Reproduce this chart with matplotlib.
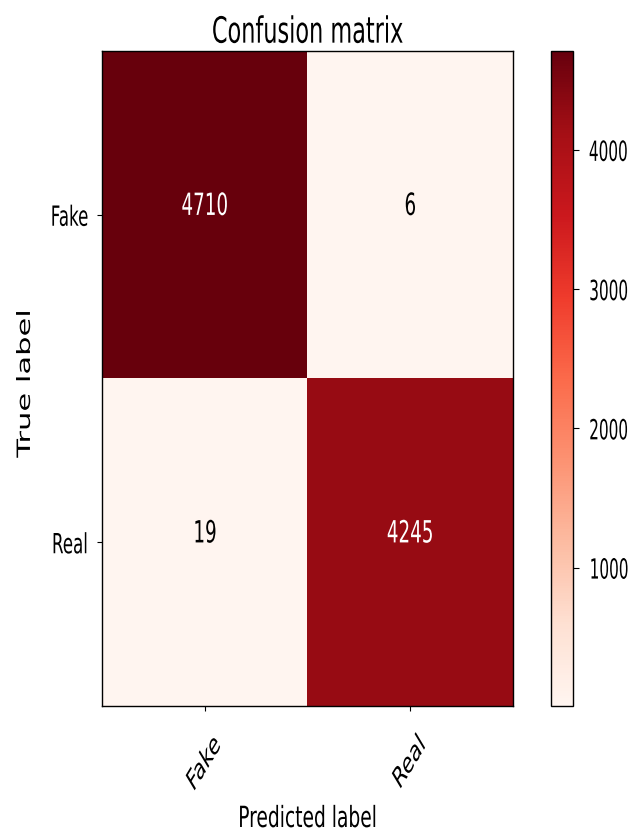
import numpy as np
import matplotlib
matplotlib.use('Agg')
import matplotlib.pyplot as plt
import matplotlib.patheffects as pe
from matplotlib.transforms import Affine2D

classes = ['Fake', 'Real']
cm = np.array([[4710, 6],
               [19, 4245]])
cbar_ticks = [1000, 2000, 3000, 4000]


class Squeeze(pe.AbstractPathEffect):
    """Narrow the glyphs horizontally in display space."""

    def __init__(self, sx=0.6, anchor='center'):
        super().__init__()
        self.sx = sx
        self.anchor = anchor

    def draw_path(self, renderer, gc, tpath, affine, rgbFace=None):
        box = tpath.get_extents(affine)
        if self.anchor == 'left':
            x0 = box.x0
        elif self.anchor == 'right':
            x0 = box.x1
        else:
            x0 = (box.x0 + box.x1) / 2
        sq = Affine2D().translate(-x0, 0).scale(self.sx, 1).translate(x0, 0)
        renderer.draw_path(gc, tpath, affine + sq, rgbFace)


SX = 0.6
W, H = 644, 837
fig = plt.figure(figsize=(W / 100, H / 100), dpi=100)
ax = fig.add_axes([102 / W, 1 - 707 / H, 411 / W, 655 / H])
cax = fig.add_axes([551 / W, 1 - 707 / H, 22 / W, 655 / H])

im = ax.imshow(cm, interpolation='nearest', cmap=plt.cm.Reds, aspect='auto')
t = ax.set_title('Confusion matrix', fontsize=26, pad=6)
t.set_path_effects([Squeeze(0.62)])

cbar = fig.colorbar(im, cax=cax, ticks=cbar_ticks)
cbar.outline.set_linewidth(1.0)
cax.tick_params(labelsize=20, pad=7, length=4)
for lab in cax.get_yticklabels():
    lab.set_path_effects([Squeeze(0.55, 'left')])

marks = np.arange(len(classes))
ax.set_xticks(marks)
ax.set_xticklabels(classes, rotation=45, fontsize=21)
ax.set_yticks(marks)
ax.set_yticklabels(classes, fontsize=20)
ax.tick_params(axis='x', pad=14)
ax.tick_params(axis='y', pad=6)
for lab in ax.get_xticklabels():
    lab.set_path_effects([Squeeze(SX)])
for lab in ax.get_yticklabels():
    lab.set_path_effects([Squeeze(SX, 'right')])

thresh = cm.max() / 2.
for i in range(cm.shape[0]):
    for j in range(cm.shape[1]):
        ax.annotate(format(cm[i, j], 'd'), (j, i), xytext=(0, 6),
                    textcoords='offset points', ha='center', va='center',
                    fontsize=22,
                    color='white' if cm[i, j] > thresh else 'black',
                    path_effects=[Squeeze(SX)])

for s in ax.spines.values():
    s.set_linewidth(1.0)

yl = ax.set_ylabel('True label', fontsize=22)
ax.yaxis.set_label_coords(-76 / 411, 0.5 - 5 / 655)
yl.set_verticalalignment('center')
yl.set_path_effects([Squeeze(SX)])

xl = ax.set_xlabel('Predicted label', fontsize=21)
ax.xaxis.set_label_coords(0.5, -99 / 655)
xl.set_path_effects([Squeeze(0.64)])

plt.savefig('out.png', dpi=100)
plt.close()
